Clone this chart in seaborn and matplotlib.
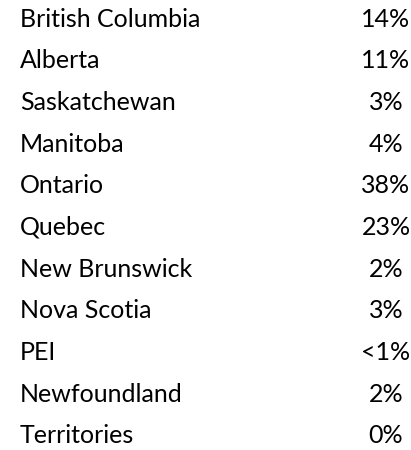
import matplotlib
matplotlib.use("Agg")
import matplotlib.pyplot as plt
import seaborn as sns

sns.set_theme(style="white")
plt.rcParams["font.family"] = ["Lato", "DejaVu Sans"]

# share of total by province / territory
regions = [
    "British Columbia",
    "Alberta",
    "Saskatchewan",
    "Manitoba",
    "Ontario",
    "Quebec",
    "New Brunswick",
    "Nova Scotia",
    "PEI",
    "Newfoundland",
    "Territories",
]
shares = ["14%", "11%", "3%", "4%", "38%", "23%", "2%", "3%", "<1%", "2%", "0%"]

fig = plt.figure(figsize=(4.11, 4.5), dpi=100)
ax = fig.add_axes([0, 0, 1, 1])

# one row per region, baselines spaced evenly
row_px = 41.65
top = -26.7 / row_px
ax.set_ylim(top + 450 / row_px, top)
ax.set_xlim(0, 411)

for i, (name, share) in enumerate(zip(regions, shares)):
    ax.text(20, i, name, ha="left", va="baseline", fontsize=18, color="black")
    ax.text(386, i, share, ha="center", va="baseline", fontsize=18, color="black")

ax.axis("off")
sns.despine(left=True, bottom=True)

fig.savefig("out.png", dpi=100, facecolor="white")
